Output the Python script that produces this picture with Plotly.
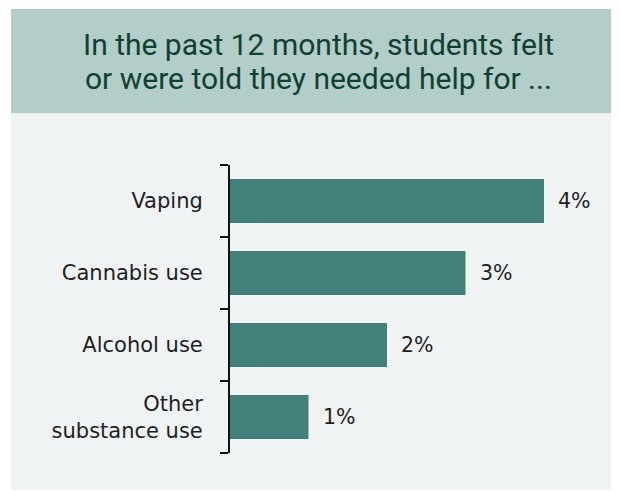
import plotly.graph_objects as go

# Share of students who felt or were told they needed help, past 12 months
categories = ["Vaping", "Cannabis use", "Alcohol use", "Other<br>substance use"]
values = [4, 3, 2, 1]
value_labels = ["4%", "3%", "2%", "1%"]

title_lines = ["In the past 12 months, students felt", "or were told they needed help for ..."]

BAR = "#42817a"
HEADER = "#b3cdc9"
PANEL = "#f0f3f4"
TITLE_INK = "#103f33"
INK = "#1e1e1e"
TITLE_FONT = "Roboto"
LABEL_FONT = "DejaVu Sans"

fig = go.Figure(
    go.Bar(
        x=values,
        y=categories,
        orientation="h",
        marker=dict(color=BAR, line=dict(width=0)),
        width=0.61,
        hoverinfo="skip",
    )
)

W, H = 621, 493
left, right, top, bottom = 230, 21, 165, 40
pw, ph = W - left - right, H - top - bottom


def px_x(x):
    return (x - left) / pw


def px_y(y):
    return (H - bottom - y) / ph


fig.update_layout(
    width=W,
    height=H,
    margin=dict(l=left, r=right, t=top, b=bottom, pad=0),
    paper_bgcolor="white",
    plot_bgcolor="rgba(0,0,0,0)",
    font=dict(family=LABEL_FONT, color=INK, size=20),
    showlegend=False,
    xaxis=dict(
        range=[0, pw / 78.5],
        visible=False,
        fixedrange=True,
    ),
    yaxis=dict(
        categoryorder="array",
        categoryarray=categories[::-1],
        showline=True,
        linecolor="#111111",
        linewidth=2,
        ticks="outside",
        tickson="boundaries",
        ticklen=8,
        tickwidth=2,
        tickcolor="#111111",
        ticklabelstandoff=21,
        showgrid=False,
        zeroline=False,
        tickfont=dict(family=LABEL_FONT, size=21, color=INK),
        fixedrange=True,
    ),
    shapes=[
        # header band
        dict(type="rect", xref="paper", yref="paper", layer="below",
             x0=px_x(11), x1=px_x(611), y0=px_y(113), y1=px_y(9),
             fillcolor=HEADER, line=dict(width=0)),
        # chart panel
        dict(type="rect", xref="paper", yref="paper", layer="below",
             x0=px_x(11), x1=px_x(611), y0=px_y(490), y1=px_y(113),
             fillcolor=PANEL, line=dict(width=0)),
    ],
)

# value labels just past each bar
for cat, v, lab in zip(categories, values, value_labels):
    fig.add_annotation(
        x=v, y=cat, text=lab, showarrow=False,
        xanchor="left", xshift=12,
        font=dict(family=LABEL_FONT, size=20.5, color=INK),
    )

# header title, one annotation per line for tighter leading
for line, yc in zip(title_lines, [44, 78]):
    fig.add_annotation(
        xref="paper", yref="paper",
        x=px_x(318), y=px_y(yc),
        text=line, showarrow=False,
        xanchor="center", yanchor="middle",
        font=dict(family=TITLE_FONT, size=30, color=TITLE_INK),
    )

fig.write_html("out.html", config={"displayModeBar": False})
